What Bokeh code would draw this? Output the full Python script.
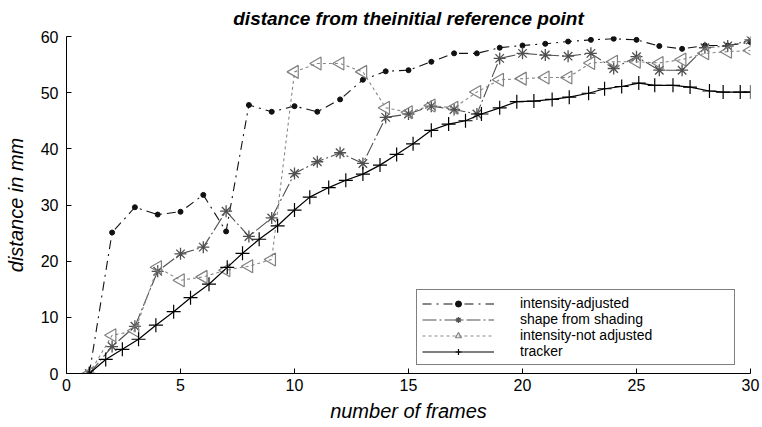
import math
from bokeh.plotting import figure
from bokeh.models import Range1d, FixedTicker, Legend, LegendItem, Title
from bokeh.embed import file_html
from bokeh.resources import INLINE

# ---- data ----
frames = list(range(1, 31))
intensity_adjusted = [0, 25.1, 29.6, 28.3, 28.8, 31.8, 25.3, 47.8, 46.6, 47.6,
                      46.6, 48.8, 52.3, 53.8, 54.0, 55.5, 57.0, 57.0, 58.0, 58.4,
                      58.7, 59.1, 59.4, 59.6, 59.4, 58.3, 57.8, 58.4, 58.4, 59.0]
shape_from_shading = [0, 4.8, 8.4, 18.2, 21.3, 22.5, 28.9, 24.4, 27.7, 35.6,
                      37.7, 39.3, 37.4, 45.6, 46.2, 47.6, 47.0, 46.2, 56.1, 57.0,
                      56.7, 56.5, 57.0, 54.3, 56.4, 54.0, 54.0, 58.0, 58.3, 59.4]
intensity_not_adjusted = [0, 6.8, 7.6, 18.9, 16.6, 17.2, 18.4, 19.1, 20.3, 53.7,
                          55.2, 55.2, 53.7, 47.3, 46.5, 47.7, 47.3, 50.1, 52.3, 52.5,
                          52.7, 52.7, 55.3, 55.5, 55.5, 55.3, 55.9, 57.0, 57.3, 57.5]
tracker_x = [1.0, 1.72, 2.45, 3.16, 3.92, 4.7, 5.44, 6.25, 7.05, 7.72,
             8.45, 9.26, 10.0, 10.67, 11.5, 12.25, 13.0, 13.75, 14.48, 15.2,
             16.0, 16.76, 17.5, 18.2, 19.0, 19.75, 20.5, 21.3, 22.05, 22.9,
             23.6, 24.35, 25.1, 25.8, 26.6, 27.35, 28.2, 28.8, 29.55, 30.0]
tracker_y = [0, 2.5, 4.3, 6.1, 8.6, 11.0, 13.5, 15.9, 18.9, 21.4,
             23.9, 26.3, 29.1, 31.4, 33.1, 34.4, 35.5, 37.1, 39.0, 40.9,
             43.3, 44.4, 45.0, 46.2, 47.3, 48.4, 48.5, 48.8, 49.2, 49.9,
             50.7, 51.1, 51.7, 51.3, 51.3, 51.0, 50.3, 50.1, 50.1, 50.1]
x_ticks = [0, 5, 10, 15, 20, 25, 30]
y_ticks = [0, 10, 20, 30, 40, 50, 60]
labels = ["intensity-adjusted", "shape from shading", "intensity-not adjusted", "tracker"]

FONT = "Liberation Sans"

p = figure(width=762, height=427, output_backend="svg", toolbar_location=None,
           x_range=Range1d(0, 30), y_range=Range1d(0, 60),
           min_border_left=66, min_border_right=12, min_border_top=36, min_border_bottom=54)
p.title = Title(text="distance from theinitial reference point", align="center",
                text_font=FONT, text_font_style="bold italic", text_font_size="19px",
                text_color="black", offset=0, standoff=11, vertical_align="top")
p.outline_line_color = None
p.xgrid.visible = False
p.ygrid.visible = False
p.background_fill_color = "white"
p.border_fill_color = "white"

for ax in (p.xaxis[0], p.yaxis[0]):
    ax.axis_line_color = "black"
    ax.axis_line_width = 1
    ax.major_tick_in = 5
    ax.major_tick_out = 0
    ax.minor_tick_line_color = None
    ax.major_tick_line_color = "black"
    ax.major_label_text_font = FONT
    ax.major_label_text_font_size = "16px"
    ax.major_label_text_color = "black"
    ax.axis_label_text_font = FONT
    ax.axis_label_text_font_style = "italic"
    ax.axis_label_text_font_size = "20px"
    ax.axis_label_text_color = "black"

p.xaxis[0].ticker = FixedTicker(ticks=x_ticks)
p.yaxis[0].ticker = FixedTicker(ticks=y_ticks)
p.xaxis[0].axis_label = "number of frames"
p.yaxis[0].axis_label = "distance in mm"
p.xaxis[0].major_label_standoff = 5
p.yaxis[0].major_label_standoff = 8
p.xaxis[0].axis_label_standoff = 6
p.yaxis[0].axis_label_standoff = 11

# series
l1 = p.line(frames, intensity_adjusted, line_color="#111111", line_width=1.1, line_dash="9 5 2 5")
m1 = p.scatter(frames, intensity_adjusted, marker="circle", size=5, fill_color="#111111", line_color="#111111")

l2 = p.line(frames, shape_from_shading, line_color="#505050", line_width=1.1, line_dash="14 3 2 3")
m2 = p.scatter(frames, shape_from_shading, marker="asterisk", size=12, line_color="#505050", line_width=1.3)

l3 = p.line(frames, intensity_not_adjusted, line_color="#888888", line_width=1.1, line_dash="3 3")
m3 = p.scatter(frames, intensity_not_adjusted, marker="triangle", size=13, angle=math.pi / 2,
               fill_color=None, line_color="#808080", line_width=1.2)

l4 = p.line(tracker_x, tracker_y, line_color="black", line_width=1.2)
m4 = p.scatter(tracker_x, tracker_y, marker="cross", size=14, line_color="black", line_width=1.2)

legend = Legend(items=[LegendItem(label=labels[0], renderers=[l1, m1]),
                       LegendItem(label=labels[1], renderers=[l2, m2]),
                       LegendItem(label=labels[2], renderers=[l3, m3]),
                       LegendItem(label=labels[3], renderers=[l4, m4])],
                location=(350, 8), orientation="vertical",
                glyph_width=72, glyph_height=15, label_height=15, label_width=209,
                label_standoff=26, spacing=0, padding=5, margin=0,
                label_text_font=FONT, label_text_font_size="14px", label_text_color="black",
                border_line_color="black", border_line_width=1, background_fill_alpha=1.0)
p.add_layout(legend, "center")

open("out.html", "w").write(file_html(p, INLINE))
